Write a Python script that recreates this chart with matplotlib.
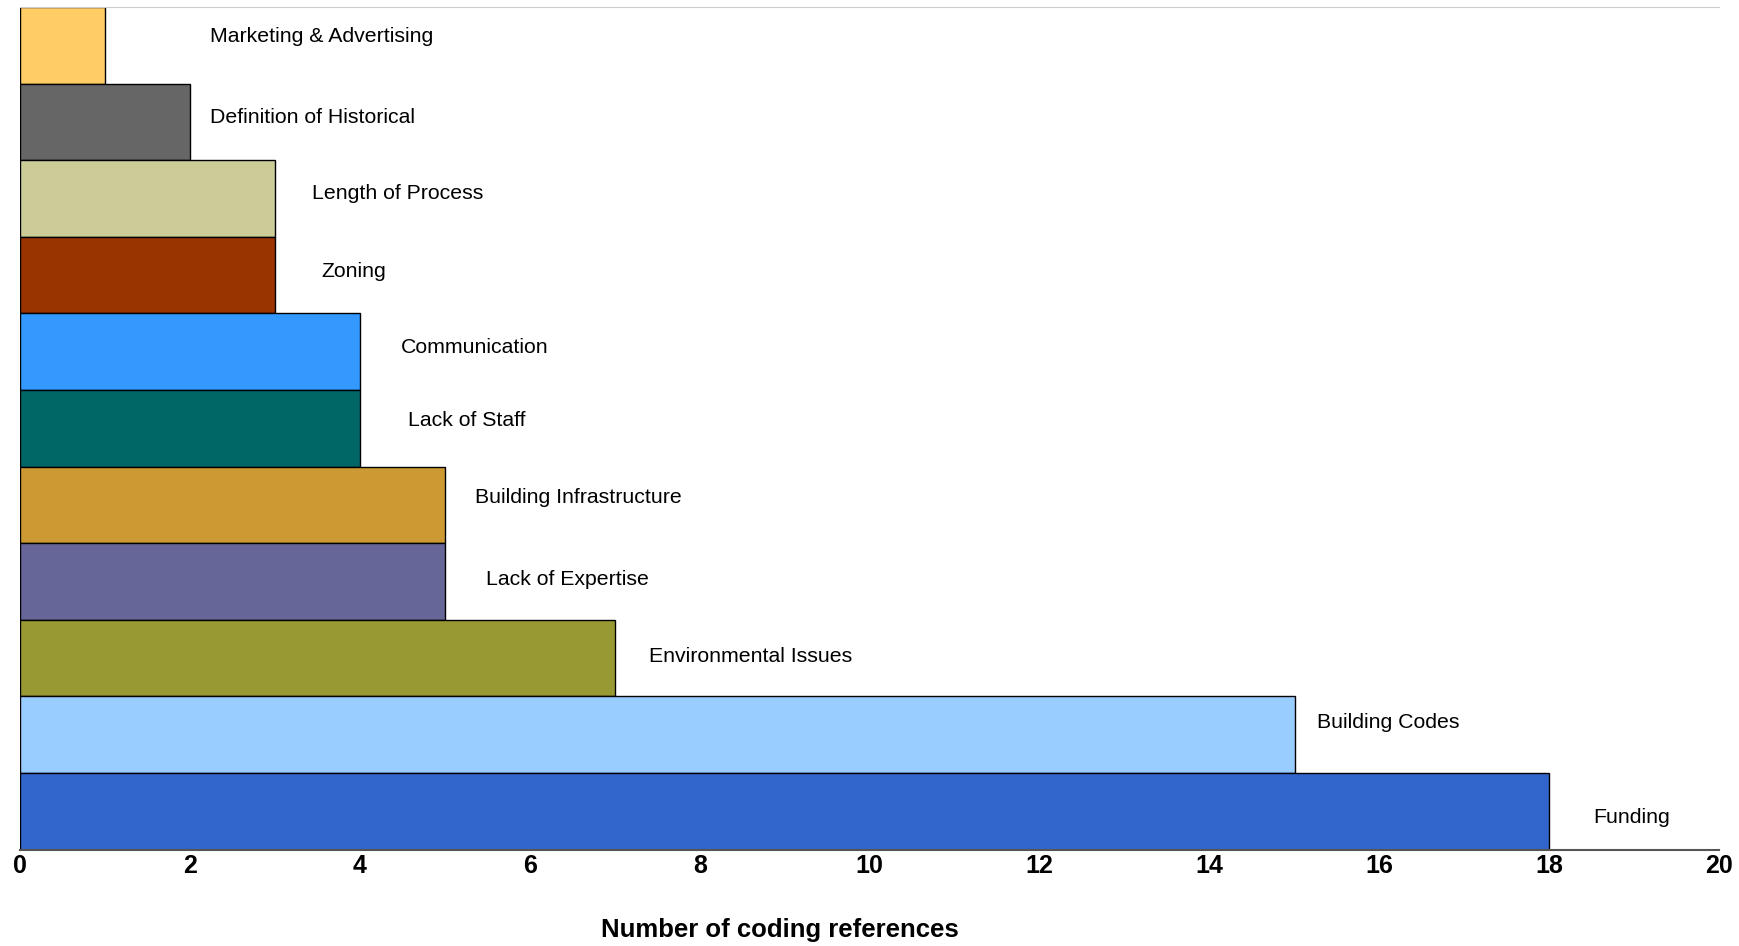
import matplotlib.pyplot as plt

# data, top to bottom
categories = ['Marketing & Advertising', 'Definition of Historical', 'Length of Process',
              'Zoning', 'Communication', 'Lack of Staff', 'Building Infrastructure',
              'Lack of Expertise', 'Environmental Issues', 'Building Codes', 'Funding']
counts = [1, 2, 3, 3, 4, 4, 5, 5, 7, 15, 18]
colors = ['#FFCC66', '#666666', '#CCCC99', '#993300', '#3399FF', '#006666',
          '#CC9933', '#666699', '#999933', '#99CCFF', '#3366CC']

# where the labels sit (data units)
label_x = [2.24, 2.24, 3.44, 3.55, 4.48, 4.57, 5.35, 5.48, 7.4, 15.26, 18.52]
label_dy = [-0.12, -0.06, -0.06, -0.05, -0.05, -0.1, -0.1, -0.03, -0.02, -0.16, 0.08]

plt.rcParams['font.family'] = ['Liberation Sans', 'DejaVu Sans']

fig = plt.figure(figsize=(17.39, 9.46), dpi=100)
ax = fig.add_axes([0.0115, 0.102, 0.9772, 0.8906])

pos = list(range(len(categories)))
ax.barh(pos, counts, height=1.0, color=colors, edgecolor='black', linewidth=1.0)

for i, name in enumerate(categories):
  ax.text(label_x[i], i + label_dy[i], name, fontsize=15.3, va='center', ha='left')

ax.set_ylim(len(categories) - 0.5, -0.5)
ax.set_xlim(0, 20)
ax.set_xticks(range(0, 21, 2))
ax.set_yticks([])
ax.tick_params(axis='x', length=0, pad=3, labelsize=18)
for lab in ax.get_xticklabels():
  lab.set_fontweight('bold')

ax.spines['left'].set_visible(False)
ax.spines['right'].set_visible(False)
ax.spines['top'].set_color('#cccccc')
ax.spines['bottom'].set_color('#555555')
ax.spines['bottom'].set_linewidth(1.5)

ax.set_xlabel('Number of coding references', fontsize=18.5, fontweight='bold')
ax.xaxis.set_label_coords(0.447, -0.081)

fig.savefig('out.png', dpi=100)
